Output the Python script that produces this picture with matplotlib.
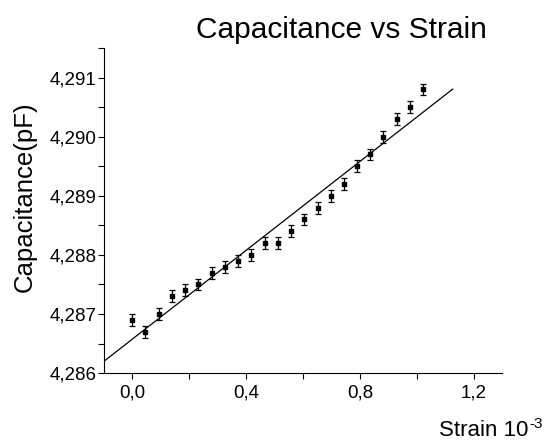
import numpy as np
import matplotlib
matplotlib.use("Agg")
import matplotlib.pyplot as plt
from matplotlib.ticker import MultipleLocator, FuncFormatter

plt.rcParams["font.family"] = ["Liberation Sans", "DejaVu Sans"]

# data
strain = [0.0, 0.046, 0.093, 0.139, 0.186, 0.232, 0.279, 0.325, 0.372, 0.418,
          0.465, 0.511, 0.558, 0.604, 0.651, 0.697, 0.744, 0.790, 0.837, 0.883,
          0.930, 0.976, 1.022]
cap = [4.2869, 4.2867, 4.2870, 4.2873, 4.2874, 4.2875, 4.2877, 4.2878, 4.2879, 4.2880,
       4.2882, 4.2882, 4.2884, 4.2886, 4.2888, 4.2890, 4.2892, 4.2895, 4.2897, 4.2900,
       4.2903, 4.2905, 4.2908]
cap_err = [0.0001] * len(strain)

fit_x = [-0.1, 1.126]

slope, icpt = np.polyfit(strain, cap, 1)

fig = plt.figure(figsize=(5.56, 4.41), dpi=100)
ax = fig.add_axes([0.187, 0.154, 0.716, 0.737])

ax.errorbar(strain, cap, yerr=cap_err, fmt="s", color="black", ms=3.4,
            ecolor="black", elinewidth=0.9, capsize=2.5, capthick=0.9)
fx = np.array(fit_x)
ax.plot(fx, slope * fx + icpt, color="black", lw=0.9)

ax.set_xlim(-0.1, 1.3)
ax.set_ylim(4.286, 4.2915)
ax.spines["top"].set_visible(False)
ax.spines["right"].set_visible(False)

ax.xaxis.set_major_locator(MultipleLocator(0.4))
ax.xaxis.set_minor_locator(MultipleLocator(0.2))
ax.yaxis.set_major_locator(MultipleLocator(0.001))
ax.yaxis.set_minor_locator(MultipleLocator(0.0005))
ax.xaxis.set_major_formatter(FuncFormatter(lambda v, p: ("%.1f" % v).replace(".", ",")))
ax.yaxis.set_major_formatter(FuncFormatter(lambda v, p: ("%.3f" % v).replace(".", ",")))
ax.tick_params(which="both", direction="out", length=4, width=0.8, labelsize=13.5)
ax.tick_params(axis="x", pad=4.5)
ax.tick_params(axis="y", pad=1.5)

fig.text(0.614, 0.914, "Capacitance vs Strain", fontsize=21.5, ha="center", va="baseline")
fig.text(0.045, 0.555, "Capacitance(pF)", fontsize=18.5, rotation=90, ha="center", va="center")
fig.text(0.950, 0.012, "Strain 10", fontsize=16, ha="right", va="baseline")
fig.text(0.952, 0.030, "-3", fontsize=11, ha="left", va="baseline")

fig.savefig("out.png", dpi=100)
